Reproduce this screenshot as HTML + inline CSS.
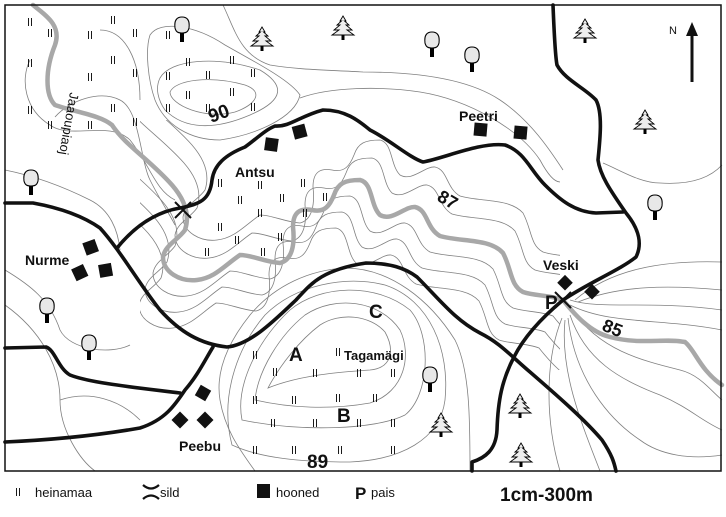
<!DOCTYPE html>
<html><head><meta charset="utf-8"><style>
html,body{margin:0;padding:0;background:#fff;}
svg{display:block;}
text{font-family:"Liberation Sans",sans-serif;}
</style></head><body>
<svg width="726" height="517" viewBox="0 0 726 517" xmlns="http://www.w3.org/2000/svg">
<defs>
<path id="river" d="M33,5 C45,15 62,25 55,45 C45,70 45,95 55,105 C75,112 100,115 112,125 C125,145 150,160 172,185 C185,200 190,215 185,230 C178,240 165,245 163,257 C163,272 180,282 197,280 C215,278 225,265 240,255 C252,255 265,262 280,263 C292,260 295,245 293,227 C293,212 300,208 312,210 C325,213 330,205 334,195 C338,183 345,180 360,180 C373,183 370,205 380,215 C392,222 405,206 415,207 C428,210 426,228 440,236 C460,242 490,238 503,253 C512,270 510,285 523,292 C535,296 550,295 563,300 C575,315 590,332 610,337 C640,345 665,338 685,342 C695,350 700,370 722,385"/>
<clipPath id="vc"><rect x="140" y="120" width="420" height="250"/></clipPath>
<g id="hay"><line x1="-1.5" y1="-4" x2="-1.5" y2="4" stroke="#000" stroke-width="0.9"/><line x1="1.5" y1="-4" x2="1.5" y2="4" stroke="#000" stroke-width="0.9"/></g>
<g id="tree"><path d="M-7,-2 C-8,-10 -5,-13 0,-13 C5,-13 8,-10 7,-2 C6,2 4,3 0,3 C-4,3 -6,2 -7,-2Z" fill="#e8e8e8" stroke="#000" stroke-width="1.1"/><rect x="-2" y="3" width="4" height="9" fill="#000"/></g>
<g id="pine"><path d="M0,-13 L3,-8 L1.5,-8 L6,-4 L3,-4 L9,1 L4,1 L11,6 L-11,6 L-4,1 L-9,1 L-3,-4 L-6,-4 L-1.5,-8 L-3,-8Z" fill="#eee" stroke="#000" stroke-width="0.9"/><rect x="-1.5" y="6" width="3" height="5" fill="#000"/></g>
</defs>
<rect x="0" y="0" width="726" height="517" fill="#fff"/>
<g fill="none" stroke="#808080" stroke-width="0.8">
<g clip-path="url(#vc)">
<use href="#river" transform="translate(12,-22)"/>
<use href="#river" transform="translate(-10,16)"/>
<use href="#river" transform="translate(-18,32)"/>
<use href="#river" transform="translate(-24,48)"/>
<use href="#river" transform="translate(20,-40)"/>
</g>
<path d="M170,92 C175,80 210,75 245,85 C265,92 255,105 235,112 C205,120 170,105 170,92Z"/>
<path d="M160,78 C170,60 215,55 260,70 C285,85 285,100 250,115 C215,130 185,130 165,110 C158,100 155,88 160,78Z"/>
<path d="M150,35 C160,20 195,25 225,45 C255,62 290,80 300,95 C295,118 255,135 220,140 C190,140 165,125 155,100 C148,80 145,50 150,35Z"/>
<path d="M223,5 C235,30 240,55 270,65 C300,70 330,70 363,72 C420,72 470,80 500,100 C530,120 550,150 563,170"/>
<path d="M300,98 C330,87 380,86 420,92 C470,100 520,130 540,160 C548,175 555,182 560,182"/>
<path d="M603,163 C620,170 640,183 660,183 C690,185 710,178 722,165"/>
<path d="M30,60 C20,80 25,110 50,125 C70,140 110,120 130,140 C150,165 155,190 175,200"/>
<path d="M55,117 C70,100 100,90 120,100 C140,110 140,160 150,180 C160,200 170,215 175,225"/>
<path d="M100,30 C125,30 140,60 140,100"/>
<path d="M5,170 C30,175 60,185 90,200 C110,210 118,230 120,250"/>
<path d="M5,270 C30,285 50,300 60,330 C70,350 110,355 130,345"/>
<path d="M5,305 C40,330 60,365 60,400 C60,430 80,460 95,471"/>
<path d="M60,400 C90,390 120,400 140,420"/>
<path d="M255,471 C240,450 225,430 220,400 C215,370 230,340 250,315 C275,285 310,270 345,268 C390,268 430,300 455,340 C470,370 470,420 470,471"/>
<path d="M268,388 C280,365 300,340 320,325 C340,312 370,315 385,332 C395,350 392,368 370,370 C340,372 300,375 268,388Z"/>
<path d="M255,400 C258,370 280,335 305,315 C335,295 380,300 400,330 C412,355 405,392 370,403 C330,410 290,408 255,400Z"/>
<path d="M242,420 C235,385 258,340 290,310 C320,285 375,282 410,310 C432,335 430,395 405,415 C375,430 300,432 242,420Z"/>
<path d="M232,445 C220,400 235,350 265,315 C295,285 345,275 385,285 C430,300 450,350 445,400 C440,440 400,460 350,462 C300,462 260,458 232,445Z"/>
<path d="M570,300 C600,310 650,300 722,310"/>
<path d="M570,305 C610,325 660,318 722,330"/>
<path d="M572,310 C600,350 640,360 680,370 C700,375 710,390 722,400"/>
<path d="M570,315 C585,360 620,380 660,395 C690,408 700,420 722,430"/>
<path d="M568,318 C575,380 610,420 640,440 C660,455 690,460 722,455"/>
<path d="M565,320 C560,370 580,420 600,471"/>
<path d="M562,318 C545,360 545,420 560,471"/>
<path d="M575,300 C610,270 660,260 722,262"/>
<path d="M578,302 C620,285 670,285 722,290"/>
</g>
<use href="#river" fill="none" stroke="#a8a8a8" stroke-width="4.5" stroke-linecap="round"/>
<g fill="none" stroke="#111" stroke-width="3.6" stroke-linecap="round" stroke-linejoin="round">
<path d="M5,203 L33,203 C55,207 80,214 100,228 C120,250 140,285 160,310 C180,332 200,344 227,347 C250,345 275,320 296,300 C310,285 320,270 366,263 C390,263 405,268 417,277 C440,300 455,320 480,333 C500,343 510,355 530,372 C560,398 585,420 602,440 C612,455 614,462 616,471"/>
<path d="M117,248 C130,232 150,213 180,208 C200,204 210,200 212,180 C214,165 225,155 245,147 C255,140 265,130 275,126 C290,127 300,116 323,110 C345,110 358,120 370,130 C390,140 410,158 423,162 C445,158 480,142 505,145 C525,152 530,170 545,185 C560,200 575,212 596,213 L623,212"/>
<path d="M553,5 C554,30 555,55 557,65 C565,80 585,88 596,100 C603,113 600,140 598,160 C600,175 610,190 626,213 C640,230 642,245 636,257 C620,270 590,282 563,300 C545,315 525,335 514,357 C502,380 498,400 497,430 C496,450 485,458 472,462 L472,471"/>
<path d="M5,348 L46,347 C55,350 58,368 70,375 C90,383 140,388 180,393"/>
<path d="M213,347 C205,360 198,375 185,390 C175,405 165,420 140,428 C100,435 50,440 5,442"/>
</g>
<g stroke="#111" stroke-width="2" fill="none">
<path d="M175,202 L191,218 M191,202 L175,218"/>
<path d="M555,292 L571,308 M571,292 L555,308"/>
</g>
<g fill="#111">
<rect x="265" y="138" width="13" height="13" transform="rotate(8 271 144)"/>
<rect x="293" y="125" width="13" height="13" transform="rotate(-15 300 131)"/>
<rect x="474" y="123" width="13" height="13" transform="rotate(5 480 130)"/>
<rect x="514" y="126" width="13" height="13" transform="rotate(5 520 133)"/>
<rect x="84" y="241" width="13" height="13" transform="rotate(-20 90 247)"/>
<rect x="73" y="266" width="13" height="13" transform="rotate(-25 80 272)"/>
<rect x="99" y="264" width="13" height="13" transform="rotate(-10 105 270)"/>
<rect x="197" y="387" width="12" height="12" transform="rotate(30 203 393)"/>
<rect x="174" y="414" width="12" height="12" transform="rotate(45 180 420)"/>
<rect x="199" y="414" width="12" height="12" transform="rotate(45 205 420)"/>
<rect x="560" y="277" width="11" height="11" transform="rotate(45 565 282)"/>
<rect x="587" y="286" width="11" height="11" transform="rotate(45 592 291)"/>
</g>
<use href="#tree" x="182" y="30"/>
<use href="#tree" x="31" y="183"/>
<use href="#tree" x="47" y="311"/>
<use href="#tree" x="89" y="348"/>
<use href="#tree" x="432" y="45"/>
<use href="#tree" x="472" y="60"/>
<use href="#tree" x="655" y="208"/>
<use href="#tree" x="430" y="380"/>
<use href="#pine" x="262" y="40"/>
<use href="#pine" x="343" y="29"/>
<use href="#pine" x="585" y="32"/>
<use href="#pine" x="645" y="123"/>
<use href="#pine" x="441" y="426"/>
<use href="#pine" x="520" y="407"/>
<use href="#pine" x="521" y="456"/>
<use href="#hay" x="30" y="22"/><use href="#hay" x="113" y="20"/><use href="#hay" x="50" y="33"/><use href="#hay" x="90" y="35"/><use href="#hay" x="135" y="33"/><use href="#hay" x="168" y="35"/><use href="#hay" x="30" y="63"/><use href="#hay" x="113" y="60"/><use href="#hay" x="90" y="77"/><use href="#hay" x="135" y="73"/><use href="#hay" x="188" y="62"/><use href="#hay" x="232" y="60"/><use href="#hay" x="168" y="76"/><use href="#hay" x="208" y="75"/><use href="#hay" x="253" y="73"/><use href="#hay" x="188" y="95"/><use href="#hay" x="232" y="92"/><use href="#hay" x="30" y="110"/><use href="#hay" x="50" y="125"/><use href="#hay" x="113" y="108"/><use href="#hay" x="90" y="125"/><use href="#hay" x="135" y="122"/><use href="#hay" x="168" y="108"/><use href="#hay" x="208" y="108"/><use href="#hay" x="253" y="107"/>
<use href="#hay" x="220" y="183"/><use href="#hay" x="260" y="185"/><use href="#hay" x="303" y="183"/><use href="#hay" x="240" y="200"/><use href="#hay" x="282" y="198"/><use href="#hay" x="325" y="197"/><use href="#hay" x="260" y="213"/><use href="#hay" x="305" y="213"/><use href="#hay" x="220" y="227"/><use href="#hay" x="237" y="240"/><use href="#hay" x="280" y="237"/><use href="#hay" x="207" y="252"/><use href="#hay" x="263" y="252"/>
<use href="#hay" x="255" y="355"/><use href="#hay" x="338" y="352"/><use href="#hay" x="275" y="372"/><use href="#hay" x="315" y="373"/><use href="#hay" x="359" y="373"/><use href="#hay" x="393" y="373"/><use href="#hay" x="255" y="400"/><use href="#hay" x="294" y="400"/><use href="#hay" x="338" y="398"/><use href="#hay" x="375" y="398"/><use href="#hay" x="273" y="423"/><use href="#hay" x="315" y="423"/><use href="#hay" x="359" y="423"/><use href="#hay" x="393" y="423"/><use href="#hay" x="255" y="450"/><use href="#hay" x="294" y="450"/><use href="#hay" x="340" y="450"/><use href="#hay" x="393" y="450"/>
<g fill="#111" font-size="14" font-weight="bold">
<text x="235" y="177">Antsu</text>
<text x="459" y="121">Peetri</text>
<text x="25" y="265">Nurme</text>
<text x="543" y="270">Veski</text>
<text x="179" y="451">Peebu</text>
<text x="344" y="360" font-size="13">Tagamägi</text>
<text x="289" y="361" font-size="19">A</text>
<text x="337" y="422" font-size="19">B</text>
<text x="369" y="318" font-size="19">C</text>
<text x="545" y="309" font-size="19">P</text>
<text x="307" y="468" font-size="19">89</text>
<text x="0" y="0" font-size="19" transform="translate(211,123) rotate(-20)">90</text>
<text x="0" y="0" font-size="18" transform="translate(436,200) rotate(30)">87</text>
<text x="0" y="0" font-size="18" transform="translate(601,330) rotate(22)">85</text>
<text x="0" y="0" font-size="13" font-weight="normal" transform="translate(70,92) rotate(100)">Jaaoupiaoj</text>
</g>
<line x1="692" y1="32" x2="692" y2="82" stroke="#111" stroke-width="3"/>
<path d="M686,36 L692,22 L698,36Z" fill="#111"/>
<text x="669" y="34" font-size="11" fill="#111">N</text>
<rect x="5" y="5" width="716" height="466" fill="none" stroke="#111" stroke-width="1.5"/>
<use href="#hay" x="18" y="492"/>
<text x="35" y="497" font-size="13" fill="#111">heinamaa</text>
<path d="M143,485 Q151,492 159,485 M143,499 Q151,492 159,499" stroke="#111" stroke-width="2.2" fill="none"/>
<text x="160" y="497" font-size="13" fill="#111">sild</text>
<rect x="257" y="484" width="13" height="14" fill="#111"/>
<text x="276" y="497" font-size="13" fill="#111">hooned</text>
<text x="355" y="499" font-size="17" font-weight="bold" fill="#111">P</text>
<text x="371" y="497" font-size="13" fill="#111">pais</text>
<text x="500" y="501" font-size="19" font-weight="bold" fill="#111">1cm-300m</text>
</svg>
</body></html>
